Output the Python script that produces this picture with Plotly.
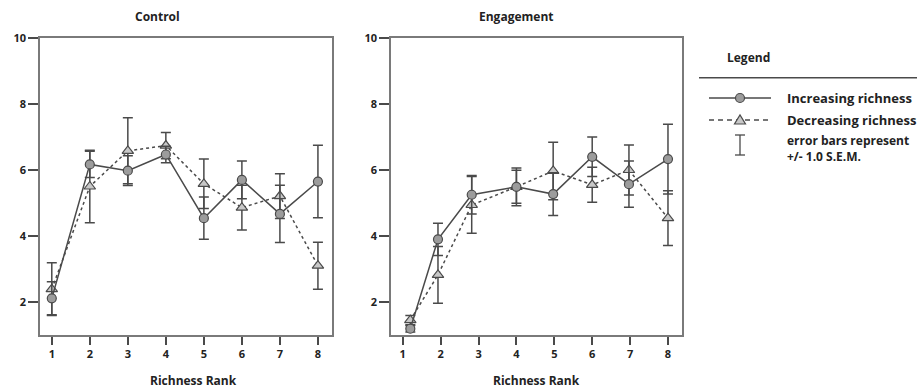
import plotly.graph_objects as go

W, H = 917, 389

# ---------------- data ----------------
ranks = [1, 2, 3, 4, 5, 6, 7, 8]
tick_vals_y = [2, 4, 6, 8, 10]

ctrl_x = [1, 2, 3, 4, 5, 6, 7, 8]
ctrl_inc = [2.11, 6.17, 5.98, 6.47, 4.54, 5.70, 4.67, 5.65]
ctrl_inc_err = [0.50, 0.40, 0.45, 0.25, 0.64, 0.57, 0.87, 1.10]
ctrl_dec = [2.39, 5.50, 6.58, 6.74, 5.58, 4.86, 5.21, 3.10]
ctrl_dec_err = [0.80, 1.10, 1.00, 0.40, 0.75, 0.68, 0.68, 0.71]

eng_x = [1.2, 1.93, 2.82, 4, 4.97, 6, 6.97, 8]
eng_inc = [1.19, 3.90, 5.25, 5.49, 5.27, 6.40, 5.57, 6.33]
eng_inc_err = [0.10, 0.49, 0.58, 0.57, 0.65, 0.60, 0.70, 1.06]
eng_dec = [1.45, 2.82, 4.94, 5.49, 5.97, 5.55, 6.00, 4.54]
eng_dec_err = [0.14, 0.86, 0.86, 0.50, 0.87, 0.53, 0.76, 0.83]

panel_titles = ["Control", "Engagement"]
x_title = "Richness Rank"
legend_title = "Legend"
legend_labels = ["Increasing richness", "Decreasing richness",
                 "error bars represent<br>+/- 1.0 S.E.M."]

# ---------------- style ----------------
FONT = "Open Sans"
DARK = "#4a4a4a"
FRAME = "#7a7a7a"
CIRCLE_FILL = "#9c9c9c"
TRI_FILL = "#c8c8c8"
TXT = "#222222"


def px(x):
    return x / W


def py(y):
    return 1 - y / H


fig = go.Figure()

panels = [
    ("x", "y", ctrl_x, ctrl_inc, ctrl_inc_err, ctrl_dec, ctrl_dec_err),
    ("x2", "y2", eng_x, eng_inc, eng_inc_err, eng_dec, eng_dec_err),
]

for xa, ya, xs, inc, inc_e, dec, dec_e in panels:
    fig.add_trace(go.Scatter(
        x=xs, y=dec, xaxis=xa, yaxis=ya, mode="lines+markers",
        line=dict(color=DARK, width=1.5, dash="3px,3px"),
        marker=dict(symbol="triangle-up", size=10, color=TRI_FILL,
                    line=dict(color=DARK, width=1.2)),
        error_y=dict(type="data", array=dec_e, color=DARK, thickness=1.5, width=5),
        showlegend=False,
    ))
    fig.add_trace(go.Scatter(
        x=xs, y=inc, xaxis=xa, yaxis=ya, mode="lines+markers",
        line=dict(color=DARK, width=1.5),
        marker=dict(symbol="circle", size=9, color=CIRCLE_FILL,
                    line=dict(color=DARK, width=1.2)),
        error_y=dict(type="data", array=inc_e, color=DARK, thickness=1.5, width=5),
        showlegend=False,
    ))

tickfont = dict(family=FONT, size=11, color=TXT, weight=700)
xaxis_common = dict(
    range=[0.69, 8.37], tickvals=ranks, ticks="outside", ticklen=8,
    tickwidth=1.5, tickcolor=DARK, showline=True, linecolor=FRAME,
    linewidth=1.5, mirror=True, showgrid=False, zeroline=False,
    tickfont=tickfont, automargin=False, fixedrange=True,
)
yaxis_common = dict(
    range=[1, 10], tickvals=tick_vals_y, ticks="outside", ticklen=10,
    tickwidth=1.5, tickcolor=DARK, showline=True, linecolor=FRAME,
    linewidth=1.5, mirror=True, showgrid=False, zeroline=False,
    tickfont=tickfont, automargin=False, fixedrange=True,
    domain=[py(335), py(38)],
)

fig.update_layout(
    width=W, height=H,
    margin=dict(l=0, r=0, t=0, b=0),
    paper_bgcolor="white", plot_bgcolor="white",
    xaxis=dict(domain=[px(40), px(332)], anchor="y", **xaxis_common),
    yaxis=dict(anchor="x", **yaxis_common),
    xaxis2=dict(domain=[px(391), px(682)], anchor="y2", **xaxis_common),
    yaxis2=dict(anchor="x2", **yaxis_common),
    showlegend=False,
)

annots = []
# panel titles
for title, cx in zip(panel_titles, [157, 516]):
    annots.append(dict(x=px(cx), y=py(17), xref="paper", yref="paper",
                       text=title, showarrow=False, xanchor="center", yanchor="middle",
                       font=dict(family=FONT, size=12, color=TXT, weight=700)))
# x axis titles
for cx in [193, 536]:
    annots.append(dict(x=px(cx), y=py(380), xref="paper", yref="paper",
                       text=x_title, showarrow=False, xanchor="center", yanchor="middle",
                       font=dict(family=FONT, size=12, color=TXT, weight=700)))

# legend
annots.append(dict(x=px(748), y=py(57), xref="paper", yref="paper",
                   text=legend_title, showarrow=False, xanchor="center", yanchor="middle",
                   font=dict(family=FONT, size=12, color=TXT, weight=700)))
for lbl, yy in zip(legend_labels[:2], [98, 120]):
    annots.append(dict(x=px(785), y=py(yy), xref="paper", yref="paper",
                       text=lbl, showarrow=False, xanchor="left", yanchor="middle",
                       font=dict(family=FONT, size=13, color=TXT, weight=700)))
annots.append(dict(x=px(785), y=py(148), xref="paper", yref="paper",
                   text=legend_labels[2], showarrow=False, xanchor="left", yanchor="middle",
                   align="left",
                   font=dict(family=FONT, size=12, color=TXT, weight=700)))

shapes = []
# rule under "Legend"
shapes.append(dict(type="line", xref="paper", yref="paper",
                   x0=px(699), x1=px(917), y0=py(77.7), y1=py(77.7),
                   line=dict(color=DARK, width=1.5)))
# solid sample
shapes.append(dict(type="line", xref="paper", yref="paper",
                   x0=px(709), x1=px(771), y0=py(98), y1=py(98),
                   line=dict(color=DARK, width=1.5)))
shapes.append(dict(type="circle", xref="paper", yref="paper",
                   x0=px(735.5), x1=px(744.5), y0=py(102.5), y1=py(93.5),
                   fillcolor=CIRCLE_FILL, line=dict(color=DARK, width=1.2)))
# dashed sample
shapes.append(dict(type="line", xref="paper", yref="paper",
                   x0=px(709), x1=px(771), y0=py(120), y1=py(120),
                   line=dict(color=DARK, width=1.5, dash="5px,4px")))
tri = "M {a},{b} L {c},{d} L {e},{f} Z".format(
    a=px(734.5), b=py(124), c=px(745.5), d=py(124), e=px(740), f=py(115))
shapes.append(dict(type="path", xref="paper", yref="paper", path=tri,
                   fillcolor=TRI_FILL, line=dict(color=DARK, width=1.2)))
# error-bar icon
shapes.append(dict(type="line", xref="paper", yref="paper",
                   x0=px(740), x1=px(740), y0=py(135), y1=py(155),
                   line=dict(color=DARK, width=1.3)))
for yy in [135, 155]:
    shapes.append(dict(type="line", xref="paper", yref="paper",
                       x0=px(735), x1=px(745), y0=py(yy), y1=py(yy),
                       line=dict(color=DARK, width=1.3)))

fig.update_layout(annotations=annots, shapes=shapes)

fig.write_html(
    "out.html",
    config={"displayModeBar": False},
    post_script="document.body.style.margin='0';document.body.style.overflow='hidden';",
)
